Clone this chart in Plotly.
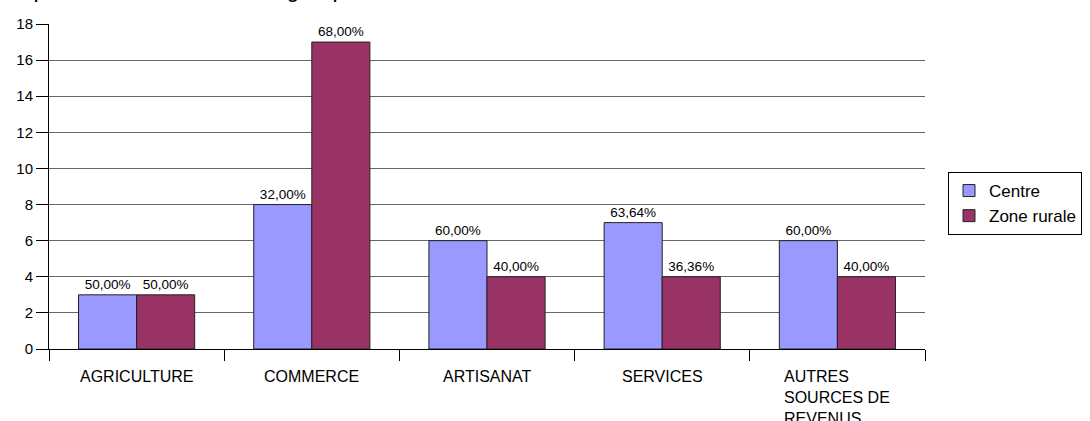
import plotly.graph_objects as go

# Activités recensées par zone
categories = ["AGRICULTURE", "COMMERCE", "ARTISANAT", "SERVICES", "AUTRES<br>SOURCES DE<br>REVENUS"]
centre_counts = [3, 8, 6, 7, 6]
rurale_counts = [3, 17, 4, 4, 4]
centre_pct = ["50,00%", "32,00%", "60,00%", "63,64%", "60,00%"]
rurale_pct = ["50,00%", "68,00%", "40,00%", "36,36%", "40,00%"]
y_ticks = [0, 2, 4, 6, 8, 10, 12, 14, 16, 18]

FONT = "Liberation Sans, Arial, sans-serif"
W, H = 1090, 421
L, R, T, B = 49, 165, 24, 72
PW, PH = W - L - R, H - T - B

fig = go.Figure()
fig.add_trace(go.Bar(
    name="Centre", x=list(range(len(categories))), y=centre_counts,
    text=centre_pct, textposition="outside", cliponaxis=False,
    textfont=dict(size=13.5, color="black", family=FONT),
    marker=dict(color="#9999FF", line=dict(color="#222222", width=1)),
))
fig.add_trace(go.Bar(
    name="Zone rurale", x=list(range(len(categories))), y=rurale_counts,
    text=rurale_pct, textposition="outside", cliponaxis=False,
    textfont=dict(size=13.5, color="black", family=FONT),
    marker=dict(color="#993366", line=dict(color="#222222", width=1)),
))

# Category labels below the axis, lines left-aligned inside each block
annotations = []
for i, cat in enumerate(categories):
    annotations.append(dict(
        x=i, y=-(366 - 349) / PH, xref="x", yref="paper",
        text=cat, showarrow=False, xanchor="center", yanchor="top",
        align="left", font=dict(size=16, color="black", family=FONT),
    ))

# Chart title, sitting at the very top edge
annotations.append(dict(
    x=(2 - L) / PW, y=1 + (T - 4) / PH, xref="paper", yref="paper",
    text="Répartition des activités du groupe", showarrow=False,
    xanchor="left", yanchor="bottom",
    font=dict(size=23, color="black", family=FONT),
))

fig.update_layout(
    width=W, height=H,
    margin=dict(l=L, r=R, t=T, b=B, pad=0, autoexpand=False),
    paper_bgcolor="white", plot_bgcolor="white",
    barmode="group", bargap=0.337, bargroupgap=0,
    font=dict(family=FONT, color="black"),
    uniformtext=dict(mode=False),
    showlegend=True,
    legend=dict(
        x=(948 - L) / PW, y=1 - (172 - T) / PH, xanchor="left", yanchor="top",
        bordercolor="black", borderwidth=1, bgcolor="white",
        font=dict(size=17, color="black", family=FONT),
        itemwidth=30, tracegroupgap=0,
    ),
    annotations=annotations,
    xaxis=dict(
        range=[-0.5, len(categories) - 0.5],
        tickmode="array", tickvals=[i - 0.5 for i in range(len(categories) + 1)],
        ticktext=[""] * (len(categories) + 1),
        ticks="outside", ticklen=11, tickcolor="black", tickwidth=1,
        showline=True, linecolor="black", linewidth=1,
        showgrid=False, zeroline=False, fixedrange=True,
    ),
    yaxis=dict(
        range=[0, 18], tickvals=y_ticks,
        ticks="outside", ticklen=12, tickcolor="black", tickwidth=1,
        tickfont=dict(size=15, color="black", family=FONT),
        showline=True, linecolor="black", linewidth=1,
        showgrid=True, gridcolor="#666666", gridwidth=1,
        zeroline=False, fixedrange=True,
    ),
)

fig.write_html("out.html")
